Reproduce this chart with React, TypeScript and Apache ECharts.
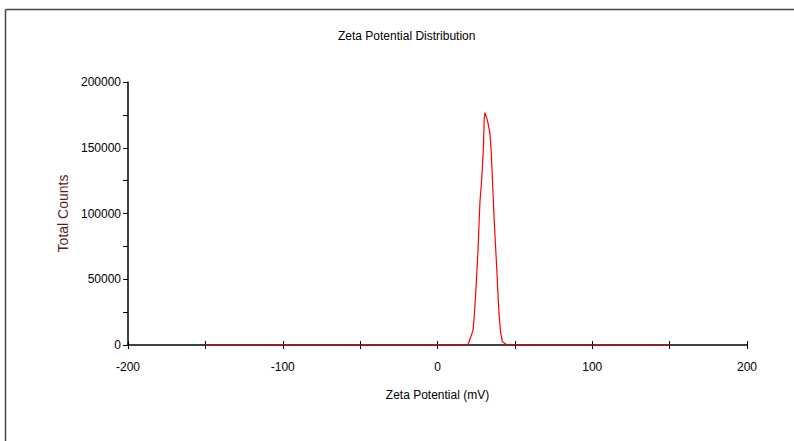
import React, { useEffect, useRef } from "react";
import * as echarts from "echarts";

const titleText = "Zeta Potential Distribution";
const xAxisName = "Zeta Potential (mV)";
const yAxisName = "Total Counts";

// Zeta potential (mV) and total counts
const zetaMv = [-150, 19.6, 22.9, 23.5, 24.6, 26.1, 27.4, 28.7, 29.6, 30.2, 30.6, 32.2, 33.9, 34.7, 35.4, 36.5, 38.2, 39.7, 40.8, 41.9, 45.1, 150];
const totalCounts = [0, 0, 10800, 18400, 37300, 70200, 108100, 128300, 148500, 171200, 176700, 171200, 161100, 147200, 128300, 98000, 60100, 24800, 9600, 2500, 0, 0];

const xMin = -200;
const xMax = 200;
const xStep = 50;
const yMin = 0;
const yMax = 200000;
const yStep = 50000;

export default function App() {
  const ref = useRef<HTMLDivElement>(null);
  useEffect(() => {
    if (!ref.current) return;
    const chart = echarts.init(ref.current, null, { renderer: "svg" });
    const font = "Arial, 'Liberation Sans', sans-serif";
    const data = zetaMv.map((x, i) => [x, totalCounts[i]]);
    chart.setOption({
      animation: false,
      backgroundColor: "#ffffff",
      title: {
        text: titleText,
        left: 333,
        top: 25,
        textStyle: { fontFamily: font, fontSize: 12, fontWeight: "normal", color: "#000" },
      },
      grid: { left: 128, right: 47, top: 82, bottom: 96 },
      xAxis: [
        {
          type: "value",
          min: xMin,
          max: xMax,
          interval: xStep,
          position: "bottom",
          name: xAxisName,
          nameLocation: "middle",
          nameGap: 44,
          nameTextStyle: { fontFamily: font, fontSize: 12, color: "#000" },
          axisLine: { show: true, onZero: false, lineStyle: { color: "#000", width: 1.5 } },
          axisTick: { show: true, inside: false, length: 4, lineStyle: { color: "#000", width: 1 } },
          axisLabel: {
            fontFamily: font,
            fontSize: 12,
            color: "#000",
            margin: 16,
            formatter: (v: number) => (v % 100 === 0 ? String(v) : ""),
          },
          splitLine: { show: false },
        },
        {
          type: "value",
          min: xMin,
          max: xMax,
          interval: xStep,
          position: "bottom",
          axisLine: { show: false, onZero: false },
          axisTick: { show: true, inside: true, length: 4, lineStyle: { color: "#000", width: 1 } },
          axisLabel: { show: false },
          splitLine: { show: false },
        },
      ],
      yAxis: {
        type: "value",
        min: yMin,
        max: yMax,
        interval: yStep,
        position: "left",
        name: yAxisName,
        nameLocation: "middle",
        nameRotate: 90,
        nameGap: 55,
        nameTextStyle: { fontFamily: font, fontSize: 14, color: "#5a1e1e" },
        axisLine: { show: true, onZero: false, lineStyle: { color: "#000", width: 1.5 } },
        axisTick: { show: true, length: 5, lineStyle: { color: "#000", width: 1 } },
        minorTick: { show: true, splitNumber: 2, length: 5, lineStyle: { color: "#000", width: 1 } },
        axisLabel: {
          fontFamily: font,
          fontSize: 12,
          color: "#000",
          margin: 7,
          formatter: (v: number) => String(v),
        },
        splitLine: { show: false },
      },
      graphic: [
        {
          type: "line",
          shape: { x1: 5.5, y1: 9.5, x2: 5.5, y2: 441 },
          style: { stroke: "#444", lineWidth: 1.5 },
        },
        {
          type: "line",
          shape: { x1: 5.5, y1: 9.5, x2: 794, y2: 9.5 },
          style: { stroke: "#444", lineWidth: 1.5 },
        },
      ],
      series: [
        {
          type: "line",
          xAxisIndex: 0,
          data,
          showSymbol: false,
          symbol: "none",
          lineStyle: { color: "#ff0000", width: 1.2 },
          z: 3,
        },
      ],
    });
    return () => chart.dispose();
  }, []);
  return (
    <div
      ref={ref}
      style={{ position: "fixed", left: 0, top: 0, width: 794, height: 441, background: "#fff" }}
    />
  );
}
